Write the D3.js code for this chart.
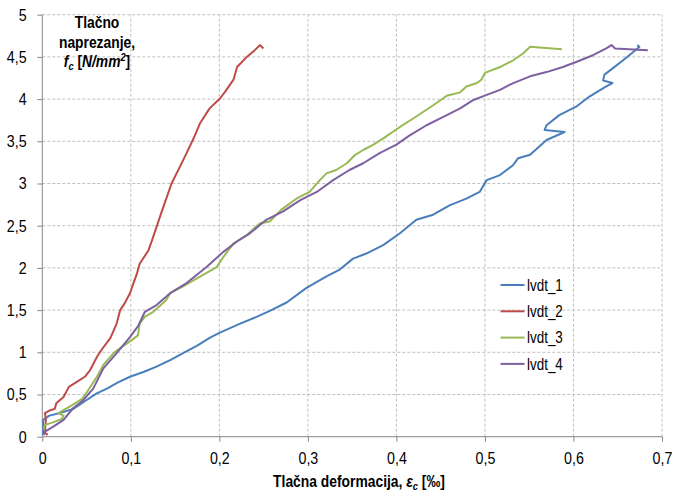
<!DOCTYPE html>
<meta charset="utf-8">
<style>
body { margin: 0; background: #fff; }
svg { display: block; font-family: "Liberation Sans", Arial, sans-serif; }
.grid line { stroke: #bfbfbf; stroke-width: 1px; stroke-dasharray: 3,2; }
.axis path, .axis line { stroke: #868686; }
.axis text { font-size: 17px; fill: #000; }
.series { fill: none; stroke-width: 2px; stroke-linejoin: round; }
.title { font-weight: bold; font-size: 16.5px; fill: #000; }
.legend text { font-size: 16px; fill: #000; }
</style>
<body>
<script src="https://d3js.org/d3.v7.min.js"></script>
<script>

// strain [‰] vs stress [N/mm2]
var lvdt1 = [[0.001,0.02],[0.001,0.20],[0.008,0.25],[0.02,0.28],[0.035,0.33],[0.048,0.42],[0.061,0.51],[0.073,0.57],[0.085,0.64],[0.099,0.71],[0.115,0.77],[0.129,0.83],[0.145,0.91],[0.159,0.99],[0.175,1.08],[0.189,1.17],[0.2,1.23],[0.2235,1.34],[0.242,1.42],[0.257,1.49],[0.276,1.59],[0.298,1.76],[0.321,1.90],[0.336,1.98],[0.351,2.11],[0.366,2.17],[0.385,2.27],[0.404,2.41],[0.4225,2.57],[0.4415,2.63],[0.46,2.74],[0.479,2.82],[0.494,2.90],[0.502,3.04],[0.517,3.10],[0.532,3.22],[0.5375,3.30],[0.551,3.34],[0.5696,3.515],[0.59,3.61],[0.5674,3.634],[0.5696,3.69],[0.584,3.81],[0.603,3.91],[0.618,4.03],[0.637,4.15],[0.644,4.19],[0.6335,4.22],[0.635,4.29],[0.645,4.37],[0.656,4.46],[0.6655,4.54],[0.6745,4.62],[0.672,4.64]];
var lvdt2 = [[0.006,0.02],[0.003,0.05],[0.004,0.20],[0.003,0.28],[0.008,0.31],[0.014,0.33],[0.016,0.40],[0.024,0.47],[0.030,0.59],[0.039,0.65],[0.048,0.71],[0.054,0.79],[0.062,0.95],[0.067,1.03],[0.077,1.17],[0.084,1.34],[0.088,1.50],[0.093,1.58],[0.099,1.70],[0.103,1.82],[0.1065,1.92],[0.110,2.05],[0.120,2.21],[0.124,2.33],[0.135,2.67],[0.146,3.0],[0.1555,3.2],[0.163,3.36],[0.172,3.56],[0.178,3.71],[0.189,3.89],[0.201,4.01],[0.208,4.11],[0.216,4.23],[0.220,4.38],[0.231,4.50],[0.240,4.58],[0.246,4.64],[0.2497,4.60]];
var lvdt3 = [[0.0015,0.08],[0.003,0.14],[0.012,0.17],[0.022,0.21],[0.024,0.25],[0.018,0.28],[0.030,0.35],[0.045,0.45],[0.0505,0.53],[0.0617,0.71],[0.069,0.85],[0.0806,0.99],[0.088,1.05],[0.099,1.13],[0.108,1.20],[0.110,1.34],[0.1157,1.42],[0.1254,1.48],[0.140,1.62],[0.1444,1.70],[0.159,1.78],[0.182,1.92],[0.197,2.01],[0.2046,2.13],[0.216,2.29],[0.231,2.39],[0.246,2.53],[0.257,2.55],[0.270,2.69],[0.287,2.82],[0.302,2.90],[0.3135,3.04],[0.321,3.12],[0.332,3.16],[0.344,3.24],[0.3535,3.34],[0.363,3.40],[0.374,3.46],[0.386,3.54],[0.404,3.67],[0.419,3.77],[0.442,3.93],[0.457,4.04],[0.472,4.08],[0.479,4.15],[0.491,4.19],[0.496,4.23],[0.5,4.31],[0.517,4.38],[0.532,4.46],[0.543,4.54],[0.551,4.62],[0.587,4.59]];
var lvdt4 = [[0.0015,0.02],[0.003,0.06],[0.0124,0.12],[0.024,0.20],[0.035,0.34],[0.046,0.43],[0.0575,0.57],[0.069,0.81],[0.084,0.99],[0.099,1.18],[0.1087,1.32],[0.1159,1.48],[0.129,1.56],[0.1444,1.70],[0.163,1.82],[0.1855,2.01],[0.2045,2.19],[0.2195,2.31],[0.2345,2.41],[0.253,2.57],[0.272,2.67],[0.291,2.80],[0.310,2.90],[0.3285,3.04],[0.347,3.16],[0.3625,3.24],[0.381,3.36],[0.400,3.46],[0.415,3.57],[0.434,3.69],[0.453,3.79],[0.472,3.89],[0.487,3.99],[0.502,4.05],[0.517,4.11],[0.532,4.19],[0.551,4.27],[0.5696,4.32],[0.588,4.38],[0.603,4.44],[0.622,4.52],[0.637,4.60],[0.643,4.64],[0.647,4.60],[0.684,4.58]];

var seriesNames = ["lvdt_1", "lvdt_2", "lvdt_3", "lvdt_4"];
var seriesColors = ["#4a7ebb", "#be4b48", "#98b954", "#7d60a0"];
var xTicks = [0, 0.1, 0.2, 0.3, 0.4, 0.5, 0.6, 0.7];
var yTicks = [0, 0.5, 1, 1.5, 2, 2.5, 3, 3.5, 4, 4.5, 5];

var width = 674, height = 493;
var margin = {top: 14.7, right: 12, bottom: 56.3, left: 42.3};
var narrow = 0.84; // no Arial Narrow here, squeeze the text instead

var svg = d3.select("body").append("svg")
	.attr("width", width)
	.attr("height", height);

var x = d3.scaleLinear().domain([0, 0.7]).range([margin.left, width - margin.right]);
var y = d3.scaleLinear().domain([0, 5]).range([height - margin.bottom, margin.top]);

var fmt = function(d) { return String(d).replace(".", ","); };

function squeeze(sel) {
	sel.attr("transform", function() {
		var tx = +this.getAttribute("x") || 0, ty = +this.getAttribute("y") || 0;
		return "translate(" + tx + "," + ty + ") scale(" + narrow + ",1)";
	}).attr("x", 0).attr("y", 0);
}

// dashed grid
var grid = svg.append("g").attr("class", "grid");
grid.selectAll(".gx").data(xTicks.slice(1)).enter().append("line")
	.attr("x1", function(d) { return x(d); }).attr("x2", function(d) { return x(d); })
	.attr("y1", y(0)).attr("y2", y(5));
grid.selectAll(".gy").data(yTicks.slice(1)).enter().append("line")
	.attr("x1", x(0)).attr("x2", x(0.7))
	.attr("y1", function(d) { return y(d); }).attr("y2", function(d) { return y(d); });

// axes
var xAxis = svg.append("g").attr("class", "axis")
	.attr("transform", "translate(0," + y(0) + ")")
	.call(d3.axisBottom(x).tickValues(xTicks).tickFormat(fmt).tickSize(5).tickPadding(10));
xAxis.select(".domain").attr("d", "M" + x(0) + ",0H" + x(0.7));
squeeze(xAxis.selectAll(".tick text"));

var yAxis = svg.append("g").attr("class", "axis")
	.attr("transform", "translate(" + x(0) + ",0)")
	.call(d3.axisLeft(y).tickValues(yTicks).tickFormat(fmt).tickSize(5).tickPadding(13.6));
yAxis.select(".domain").attr("d", "M0," + y(0) + "V" + y(5));
yAxis.selectAll(".tick text").attr("x", -18.6 * narrow);
squeeze(yAxis.selectAll(".tick text"));

// lines
var line = d3.line()
	.x(function(d) { return x(d[0]); })
	.y(function(d) { return y(d[1]); });

[lvdt1, lvdt2, lvdt3, lvdt4].forEach(function(s, i) {
	svg.append("path")
		.datum(s)
		.attr("class", "series")
		.attr("stroke", seriesColors[i])
		.attr("d", line);
});

// axis titles
var xt = svg.append("text").attr("class", "title")
	.attr("x", 359).attr("y", 486.5)
	.attr("text-anchor", "middle");
xt.append("tspan").text("Tlačna deformacija, ");
xt.append("tspan").attr("font-style", "italic").text("ε");
xt.append("tspan").attr("font-style", "italic").attr("font-size", "11px").attr("dy", 3).text("c");
xt.append("tspan").attr("dy", -3).text(" [‰]");
squeeze(xt);

var yt = svg.append("g").attr("class", "title").attr("text-anchor", "middle");
yt.append("text").attr("class", "title").attr("x", 97).attr("y", 28).text("Tlačno");
yt.append("text").attr("class", "title").attr("x", 97).attr("y", 47.5).text("naprezanje,");
var yt3 = yt.append("text").attr("class", "title").attr("x", 97).attr("y", 67);
yt3.append("tspan").attr("font-style", "italic").text("f");
yt3.append("tspan").attr("font-style", "italic").attr("font-size", "11px").attr("dy", 3).text("c");
yt3.append("tspan").attr("dy", -3).text(" [");
yt3.append("tspan").attr("font-style", "italic").text("N/mm");
yt3.append("tspan").attr("font-style", "italic").attr("font-size", "11px").attr("dy", -6).text("2");
yt3.append("tspan").attr("dy", 6).text("]");
squeeze(yt.selectAll("text"));

// legend
var legend = svg.append("g").attr("class", "legend")
	.selectAll("g").data(seriesNames).enter().append("g")
	.attr("transform", function(d, i) { return "translate(500.5," + (285 + i * 26.3) + ")"; });
legend.append("line")
	.attr("x1", 0).attr("x2", 24)
	.attr("stroke", function(d, i) { return seriesColors[i]; })
	.attr("stroke-width", 2);
legend.append("text")
	.attr("x", 26.5).attr("dy", "0.35em")
	.text(function(d) { return d; });
squeeze(legend.selectAll("text"));

</script>
</body>
